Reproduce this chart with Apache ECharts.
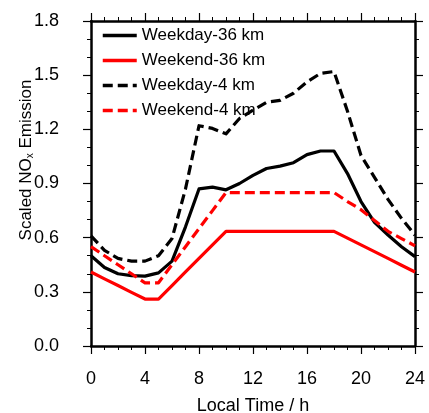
<!DOCTYPE html>
<html>
<head>
<meta charset="utf-8">
<script src="https://cdn.jsdelivr.net/npm/echarts@6/dist/echarts.min.js"></script>
<style>
html,body{margin:0;padding:0;background:#fff;}
#chart{width:429px;height:413px;}
</style>
</head>
<body>
<div id="chart"></div>
<script>
// Local time (h)
var hours = [0,1,2,3,4,5,6,7,8,9,10,11,12,13,14,15,16,17,18,19,20,21,22,23,24];
// Scaled NOx emission
var weekday36 = [0.50,0.435,0.40,0.39,0.387,0.405,0.47,0.66,0.87,0.88,0.865,0.90,0.945,0.983,0.996,1.015,1.06,1.08,1.08,0.955,0.80,0.685,0.615,0.55,0.495];
var weekend36 = [0.41,0.372,0.335,0.297,0.26,0.26,0.335,0.41,0.485,0.56,0.635,0.635,0.635,0.635,0.635,0.635,0.635,0.635,0.635,0.5975,0.56,0.5225,0.485,0.4475,0.41];
var weekday4  = [0.61,0.53,0.485,0.47,0.47,0.50,0.595,0.87,1.22,1.205,1.175,1.26,1.306,1.35,1.36,1.40,1.463,1.51,1.52,1.30,1.055,0.934,0.812,0.707,0.614];
var weekend4  = [0.55,0.50,0.45,0.40,0.35,0.35,0.45,0.55,0.65,0.75,0.85,0.85,0.85,0.85,0.85,0.85,0.85,0.85,0.85,0.80,0.755,0.695,0.635,0.595,0.555];
var seriesNames = ['Weekday-36 km','Weekend-36 km','Weekday-4 km','Weekend-4 km'];
var xTicks = {min:0, max:24, interval:4};
var yTicks = {min:0, max:1.8, interval:0.3};

function pairs(vals){ return hours.map(function(h,i){ return [h, vals[i]]; }); }

var FONT = 'Liberation Sans, Arial, Helvetica, sans-serif';
var chart = echarts.init(document.getElementById('chart'), null, {renderer:'canvas'});

function xAxisCfg(pos, showLabel){
  return {
    type:'value', position:pos, min:xTicks.min, max:xTicks.max, interval:xTicks.interval,
    axisLine:{show:true, onZero:false, lineStyle:{color:'#000', width:2.5}},
    axisTick:{show:true, inside:false, length:8, lineStyle:{color:'#000', width:1.2}},
    minorTick:{show:true, splitNumber:4, length:4, lineStyle:{color:'#000', width:1}},
    splitLine:{show:false}, minorSplitLine:{show:false},
    axisLabel:{show:showLabel, color:'#000', fontSize:18, fontFamily:FONT, margin:24}
  };
}
function yAxisCfg(pos, showLabel){
  return {
    type:'value', position:pos, min:yTicks.min, max:yTicks.max, interval:yTicks.interval,
    axisLine:{show:true, onZero:false, lineStyle:{color:'#000', width:2.5}},
    axisTick:{show:true, inside:false, length:8, lineStyle:{color:'#000', width:1.2}},
    minorTick:{show:true, splitNumber:3, length:4, lineStyle:{color:'#000', width:1}},
    splitLine:{show:false}, minorSplitLine:{show:false},
    axisLabel:{show:showLabel, color:'#000', fontSize:18, fontFamily:FONT, margin:32,
      formatter:function(v){ return v.toFixed(1); }}
  };
}

var xb = xAxisCfg('bottom', true);
xb.name = 'Local Time / h';
xb.nameLocation = 'middle';
xb.nameGap = 51;
xb.nameTextStyle = {color:'#000', fontSize:18, fontFamily:FONT};

var styles = [
  {color:'#000000', type:'solid'},
  {color:'#ff0000', type:'solid'},
  {color:'#000000', type:[10,5]},
  {color:'#ff0000', type:[10,5]}
];
var data = [weekday36, weekend36, weekday4, weekend4];

chart.setOption({
  animation:false,
  backgroundColor:'#fff',
  grid:{left:91, right:14, top:21, bottom:67, containLabel:false, outerBoundsMode:'none'},
  xAxis:[xb, xAxisCfg('top', false)],
  yAxis:[yAxisCfg('left', true), yAxisCfg('right', false)],
  legend:{
    orient:'vertical', left:101, top:27, padding:0, itemGap:8,
    itemWidth:34, itemHeight:14,
    itemStyle:{opacity:0},
    lineStyle:{width:3.5},
    textStyle:{color:'#000', fontSize:17, fontFamily:FONT, lineHeight:14},
    data:seriesNames
  },
  graphic:[{
    type:'text', x:26, y:160, rotation:Math.PI/2,
    style:{
      text:'Scaled NO{sub|x} Emission',
      fill:'#000', fontSize:17, fontFamily:FONT, lineHeight:18,
      align:'center', verticalAlign:'middle',
      rich:{sub:{fontSize:10, lineHeight:10, verticalAlign:'bottom', fill:'#000', fontFamily:FONT}}
    }
  }],
  series: seriesNames.map(function(n,i){
    return {
      name:n, type:'line', xAxisIndex:0, yAxisIndex:0,
      data:pairs(data[i]), symbol:'none', showSymbol:false, smooth:false,
      color:styles[i].color,
      lineStyle:{color:styles[i].color, width:3.2, type:styles[i].type, cap:'butt', join:'round'},
      itemStyle:{color:styles[i].color}
    };
  })
});
</script>
</body>
</html>
